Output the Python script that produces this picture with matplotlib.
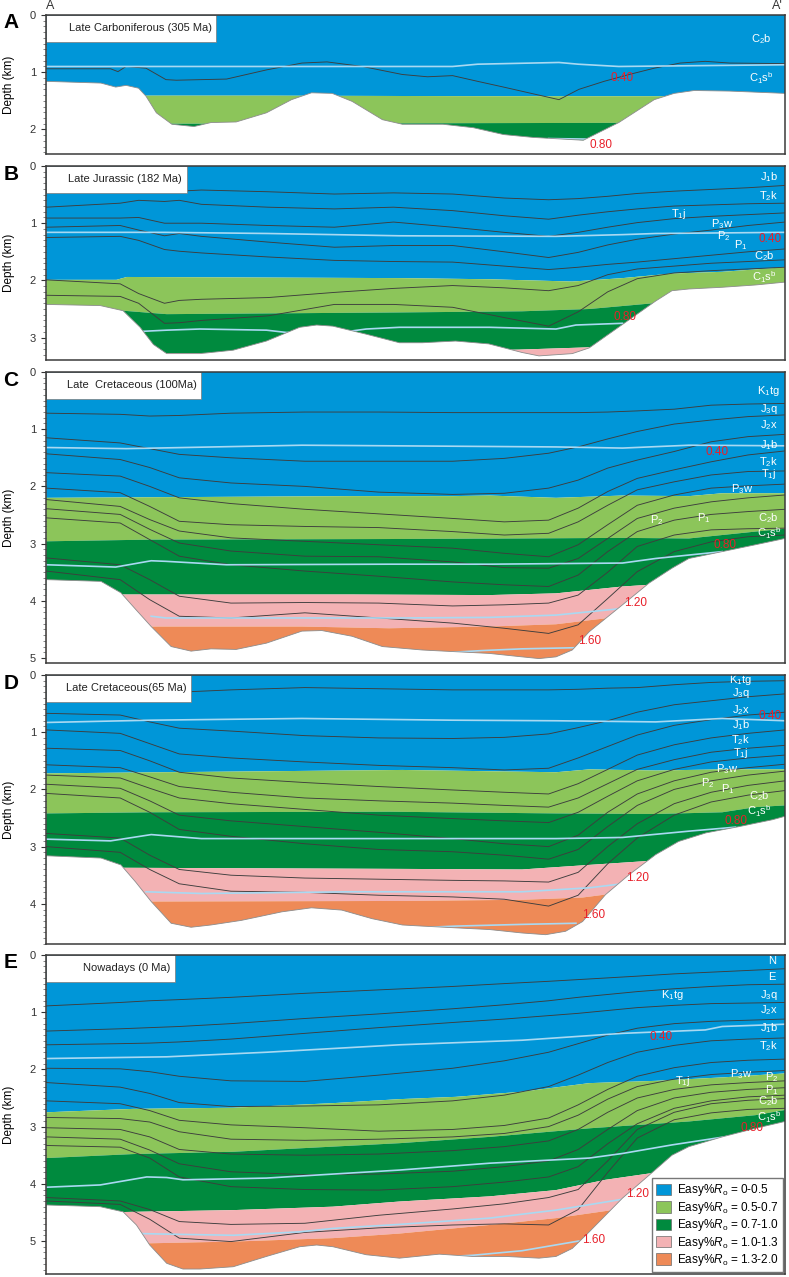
import matplotlib.pyplot as plt
from matplotlib.patches import Patch, Rectangle
from matplotlib.ticker import MultipleLocator

plt.rcParams['font.family'] = ['Liberation Sans', 'DejaVu Sans']
plt.rcParams['mathtext.fontset'] = 'custom'
plt.rcParams['mathtext.rm'] = 'Liberation Sans'
plt.rcParams['mathtext.it'] = 'Liberation Sans:italic'

# ---------------- colours ----------------
BLUE = '#0096d8'
LGREEN = '#8cc55a'
DGREEN = '#008a3e'
PINK = '#f3b2b4'
ORANGE = '#ee8a57'
ZONE_COLS = [BLUE, LGREEN, DGREEN, PINK, ORANGE]
ZONE_LABELS = ['0-0.5', '0.5-0.7', '0.7-1.0', '1.0-1.3', '1.3-2.0']
LINE_COL = '#3d3d3d'
ISO_COL = '#a9d9f2'
RED = '#e8202a'

# ================= panel A : Late Carboniferous =================
a_base_x = [0, 7.4, 9.4, 10.8, 12.5, 13.5, 14.9, 17, 20, 22.3, 25.7, 29.8, 33.2, 35.9, 38.7,
            41.4, 45.5, 48.2, 53.7, 57.8, 61.9, 65.9, 70, 72.7, 77.5, 82.3, 85, 87.7, 92.5, 100]
a_base_d = [1.16, 1.19, 1.26, 1.23, 1.28, 1.42, 1.71, 1.91, 1.95, 1.88, 1.87, 1.71, 1.48, 1.36, 1.37,
            1.51, 1.83, 1.91, 1.91, 1.97, 2.09, 2.14, 2.17, 2.19, 1.88, 1.48, 1.37, 1.32, 1.33, 1.37]
a_ro05 = ([0, 30, 60, 100], [1.41, 1.41, 1.42, 1.42])
a_ro07 = ([0, 30, 60, 100], [1.90, 1.90, 1.89, 1.88])
a_line_x = [0, 8.7, 9.7, 10.8, 13.5, 16.2, 17.6, 24.4, 29.8, 34.6, 38, 42.8, 48.2, 51.6, 55,
            58.4, 61.9, 65.3, 69.4, 72.1, 75.5, 78.9, 82.3, 85.8, 89.2, 92.5, 100]
a_line_d = [0.94, 0.94, 0.99, 0.90, 0.93, 1.13, 1.14, 1.12, 0.96, 0.84, 0.82, 0.90, 1.04, 1.08, 1.06,
            1.16, 1.26, 1.36, 1.48, 1.30, 1.16, 1.04, 0.93, 0.84, 0.81, 0.84, 0.85]
a_iso040 = ([0, 55, 58.4, 69.4, 72, 77.5, 100], [0.90, 0.90, 0.86, 0.83, 0.86, 0.90, 0.87])
a_iso080 = ([68, 73.5], [2.16, 2.17])

# ================= panel B : Late Jurassic =================
b_base_x = [0, 7.3, 10.4, 12.7, 14.5, 16.3, 20.8, 25.3, 29.8, 34.3, 36.6, 38.8, 43.3, 47.8,
            50.9, 55.4, 59.9, 64.4, 66.7, 71.2, 73.5, 78, 82.5, 84.7, 87, 91.5, 96, 100]
b_base_d = [2.42, 2.44, 2.53, 2.82, 3.12, 3.28, 3.28, 3.22, 3.06, 2.82, 2.78, 2.80, 2.94, 3.09,
            3.09, 3.06, 3.11, 3.26, 3.32, 3.28, 3.18, 2.77, 2.36, 2.18, 2.15, 2.12, 2.08, 2.03]
b_ro05 = ([0, 9.5, 10.9, 47.8, 60, 71.2, 78, 84.7, 91.5, 100],
          [1.99, 1.99, 1.94, 1.96, 1.98, 2.02, 1.96, 1.88, 1.85, 1.77])
b_ro07 = ([0, 10.4, 16.3, 47.8, 64.4, 73.5, 83, 100], [2.53, 2.53, 2.59, 2.56, 2.54, 2.50, 2.39, 2.30])
b_ro10 = ([0, 20, 50, 64, 73.5, 100], [3.27, 3.27, 3.24, 3.21, 3.17, 3.10])
b_grid = [0, 10, 12.5, 16, 18, 21, 30, 39, 47, 55, 62, 68, 72, 76, 80, 85, 90, 95, 100]
b_lines = [
    [0.46, 0.46, 0.46, 0.45, 0.44, 0.42, 0.45, 0.49, 0.47, 0.49, 0.56, 0.59, 0.57, 0.53, 0.48, 0.44, 0.41, 0.38, 0.34],
    [0.72, 0.65, 0.60, 0.62, 0.60, 0.67, 0.72, 0.75, 0.72, 0.78, 0.87, 0.93, 0.86, 0.80, 0.75, 0.70, 0.68, 0.66, 0.65],
    [0.91, 0.91, 0.90, 1.00, 1.00, 1.00, 1.04, 1.07, 0.98, 1.07, 1.16, 1.23, 1.16, 1.07, 0.99, 0.92, 0.88, 0.85, 0.82],
    [1.07, 1.04, 1.12, 1.22, 1.18, 1.23, 1.33, 1.42, 1.39, 1.39, 1.50, 1.60, 1.51, 1.38, 1.28, 1.19, 1.12, 1.04, 0.98],
    [1.25, 1.23, 1.30, 1.46, 1.49, 1.52, 1.59, 1.65, 1.67, 1.68, 1.75, 1.81, 1.77, 1.72, 1.68, 1.62, 1.56, 1.50, 1.45],
    [1.99, 2.06, 2.23, 2.40, 2.35, 2.33, 2.30, 2.21, 2.14, 2.09, 2.13, 2.18, 2.09, 1.90, 1.80, 1.75, 1.70, 1.67, 1.64],
    [2.26, 2.28, 2.40, 2.75, 2.74, 2.70, 2.62, 2.42, 2.42, 2.47, 2.65, 2.80, 2.55, 2.20, 1.97, 1.87, 1.83, 1.80, 1.77],
]
b_iso040 = ([0, 16, 30, 39, 47.8, 69, 78, 82.5, 100], [1.16, 1.16, 1.18, 1.20, 1.22, 1.23, 1.20, 1.18, 1.16])
b_iso080 = ([13.1, 16.3, 20.8, 29.8, 32.5, 41, 43.3, 47.8, 60, 69, 71.7, 78],
            [2.89, 2.87, 2.85, 2.87, 2.91, 2.89, 2.85, 2.82, 2.82, 2.85, 2.78, 2.75])

# ================= panel C : Late Cretaceous 100 Ma =================
c_base_x = [0, 7.4, 10.1, 12.1, 14.2, 16.9, 19.6, 22.3, 25.7, 29.8, 34.6, 37.3, 41.4, 45.5, 50.9,
            55.4, 60, 64.4, 66.7, 69, 71.2, 73.5, 78, 81.6, 84.7, 87, 91.5, 96, 100]
c_base_d = [3.63, 3.66, 3.86, 4.15, 4.45, 4.80, 4.88, 4.84, 4.85, 4.74, 4.53, 4.52, 4.62, 4.80, 4.86,
            4.89, 4.92, 4.98, 5.01, 4.98, 4.86, 4.54, 4.07, 3.69, 3.43, 3.26, 3.14, 3.02, 2.91]
c_ro05 = ([0, 41.4, 55, 60, 69, 78, 87, 91.5, 100], [2.20, 2.17, 2.17, 2.16, 2.20, 2.16, 2.17, 2.12, 2.12])
c_ro07 = ([0, 14.2, 46.4, 64.4, 78, 87, 91.5, 96, 100], [2.96, 2.93, 2.92, 2.91, 2.90, 2.91, 2.85, 2.79, 2.74])
c_ro10 = ([0, 10, 41.4, 60, 69, 73.5, 78, 81.6, 100], [3.89, 3.89, 3.89, 3.90, 3.87, 3.81, 3.75, 3.72, 3.60])
c_ro13 = ([0, 14.2, 34.6, 46.4, 60, 69, 73.5, 76.2, 100], [4.45, 4.45, 4.45, 4.48, 4.45, 4.41, 4.34, 4.30, 4.10])
grid = [0, 10, 14, 18, 25, 35, 45, 55, 62, 68, 72, 76, 80, 85, 90, 95, 100]
c_lines = [
    [0.72, 0.74, 0.77, 0.76, 0.72, 0.70, 0.70, 0.71, 0.71, 0.71, 0.71, 0.70, 0.68, 0.65, 0.58, 0.56, 0.55],
    [1.15, 1.24, 1.34, 1.44, 1.50, 1.56, 1.56, 1.56, 1.51, 1.42, 1.31, 1.17, 1.04, 0.91, 0.84, 0.78, 0.75],
    [1.43, 1.53, 1.67, 1.85, 1.94, 2.00, 2.10, 2.14, 2.12, 2.03, 1.89, 1.68, 1.54, 1.39, 1.22, 1.13, 1.09],
    [1.76, 1.82, 2.00, 2.20, 2.30, 2.40, 2.48, 2.56, 2.62, 2.59, 2.38, 2.09, 1.86, 1.71, 1.57, 1.45, 1.38],
    [2.03, 2.11, 2.35, 2.61, 2.67, 2.70, 2.72, 2.79, 2.85, 2.82, 2.62, 2.33, 2.06, 1.92, 1.80, 1.74, 1.73],
    [2.23, 2.35, 2.58, 2.78, 2.90, 2.96, 3.02, 3.08, 3.17, 3.23, 3.02, 2.67, 2.33, 2.15, 2.03, 1.99, 1.96],
    [2.39, 2.49, 2.75, 2.99, 3.13, 3.22, 3.23, 3.32, 3.42, 3.43, 3.26, 2.91, 2.56, 2.38, 2.27, 2.20, 2.15],
    [2.55, 2.64, 2.93, 3.22, 3.37, 3.48, 3.57, 3.67, 3.72, 3.75, 3.55, 3.14, 2.79, 2.59, 2.49, 2.44, 2.40],
    [3.25, 3.37, 3.63, 3.92, 4.04, 4.03, 4.04, 4.09, 4.07, 4.04, 3.90, 3.50, 3.05, 2.85, 2.76, 2.74, 2.73],
    [3.48, 3.63, 3.98, 4.27, 4.30, 4.21, 4.30, 4.39, 4.48, 4.57, 4.42, 3.96, 3.49, 3.14, 2.97, 2.88, 2.85],
]
c_iso040 = ([0, 10.8, 34.6, 46.4, 69, 78, 87, 100], [1.32, 1.34, 1.28, 1.29, 1.31, 1.33, 1.28, 1.29])
c_iso080 = ([0, 9.4, 14.2, 16.2, 24.4, 46.4, 60, 78, 82.5, 87, 91.5],
            [3.37, 3.41, 3.30, 3.31, 3.37, 3.36, 3.36, 3.34, 3.26, 3.20, 3.14])
c_iso120 = ([14.2, 16.2, 27.8, 48.2, 60, 69, 77.5], [4.27, 4.30, 4.30, 4.30, 4.29, 4.25, 4.14])
c_iso160 = ([55, 59, 64.4, 71.7], [4.90, 4.87, 4.84, 4.82])

# ================= panel D : Late Cretaceous 65 Ma =================
d_base_x = [0, 7.4, 10.1, 12.1, 14.2, 16.9, 19.6, 22.3, 26.4, 31.9, 35.9, 40, 44.1, 48.2, 50.9,
            55.4, 60, 64.4, 67.6, 70.3, 72.6, 75.7, 78.9, 82.5, 85.6, 89.3, 93.8, 98.3, 100]
d_base_d = [3.16, 3.20, 3.32, 3.62, 3.96, 4.34, 4.41, 4.37, 4.29, 4.14, 4.07, 4.11, 4.26, 4.37, 4.39,
            4.42, 4.45, 4.51, 4.54, 4.48, 4.31, 3.84, 3.49, 3.14, 2.91, 2.76, 2.65, 2.53, 2.47]
d_ro05 = ([0, 48.2, 69, 73.5, 82.5, 91.5, 100], [1.72, 1.66, 1.70, 1.65, 1.67, 1.65, 1.65])
d_ro07 = ([0, 14.2, 46.4, 69, 82.5, 91.5, 96, 100], [2.42, 2.40, 2.39, 2.42, 2.43, 2.40, 2.31, 2.28])
d_ro10 = ([0, 10, 48.2, 64.4, 73.5, 81.6, 100], [3.37, 3.37, 3.39, 3.40, 3.32, 3.25, 3.15])
d_ro13 = ([0, 14.2, 48.2, 64.4, 72.6, 76.2, 100], [3.96, 3.96, 3.95, 3.93, 3.89, 3.83, 3.70])
d_lines = [
    [0.30, 0.30, 0.30, 0.30, 0.26, 0.22, 0.24, 0.26, 0.26, 0.26, 0.25, 0.23, 0.22, 0.17, 0.13, 0.11, 0.10],
    [0.67, 0.70, 0.82, 0.93, 0.98, 1.06, 1.10, 1.11, 1.09, 1.03, 0.92, 0.80, 0.65, 0.52, 0.45, 0.38, 0.33],
    [0.96, 1.02, 1.20, 1.38, 1.45, 1.52, 1.58, 1.62, 1.66, 1.63, 1.45, 1.25, 1.05, 0.88, 0.78, 0.70, 0.65],
    [1.28, 1.32, 1.50, 1.70, 1.80, 1.88, 1.95, 2.01, 2.05, 2.08, 1.90, 1.65, 1.40, 1.22, 1.10, 1.02, 0.96],
    [1.57, 1.62, 1.78, 1.95, 2.05, 2.15, 2.20, 2.24, 2.28, 2.31, 2.15, 1.90, 1.65, 1.48, 1.35, 1.28, 1.23],
    [1.75, 1.80, 1.98, 2.15, 2.25, 2.35, 2.45, 2.51, 2.55, 2.58, 2.40, 2.12, 1.85, 1.65, 1.52, 1.45, 1.40],
    [1.91, 1.98, 2.20, 2.45, 2.55, 2.65, 2.75, 2.86, 2.95, 3.00, 2.80, 2.40, 2.08, 1.85, 1.70, 1.62, 1.56],
    [2.07, 2.15, 2.40, 2.70, 2.82, 2.95, 3.05, 3.09, 3.15, 3.22, 3.05, 2.65, 2.28, 2.00, 1.85, 1.75, 1.68],
    [2.77, 2.85, 3.15, 3.40, 3.50, 3.55, 3.57, 3.59, 3.60, 3.62, 3.45, 3.00, 2.60, 2.25, 2.05, 1.93, 1.85],
    [3.00, 3.10, 3.40, 3.65, 3.78, 3.80, 3.85, 3.88, 3.92, 4.04, 3.85, 3.30, 2.85, 2.45, 2.22, 2.10, 2.02],
]
d_iso040 = ([0, 14.2, 34.6, 55, 69, 82.5, 91.5, 100], [0.83, 0.79, 0.76, 0.79, 0.80, 0.82, 0.76, 0.80])
d_iso080 = ([0, 8.7, 14.2, 21, 48.2, 69, 78, 87, 93.3], [2.87, 2.90, 2.79, 2.86, 2.86, 2.86, 2.84, 2.73, 2.66])
d_iso120 = ([13.5, 21, 41.4, 64.4, 73.5, 78], [3.79, 3.82, 3.79, 3.79, 3.72, 3.65])
d_iso160 = ([50, 55.4, 64.4, 71.7], [4.42, 4.39, 4.36, 4.34])

# ================= panel E : Nowadays =================
e_base_x = [0, 7.3, 10.4, 12.2, 14, 16.3, 18.5, 20.8, 25.3, 29.8, 34.3, 36.6, 38.8, 43.3, 47.8,
            53.2, 57.7, 62.2, 66.7, 69, 71.2, 73.5, 78, 81.6, 84.7, 87, 91.5, 96, 100]
e_base_d = [4.37, 4.40, 4.49, 4.72, 5.07, 5.39, 5.49, 5.49, 5.45, 5.27, 5.10, 5.07, 5.10, 5.24, 5.30,
            5.23, 5.27, 5.27, 5.30, 5.27, 5.13, 4.84, 4.25, 3.85, 3.50, 3.35, 3.18, 3.03, 2.91]
e_ro05 = ([0, 11.8, 25.3, 38.8, 47.8, 55.4, 64.4, 73.5, 82.5, 91.5, 100],
          [2.75, 2.69, 2.67, 2.59, 2.52, 2.48, 2.39, 2.24, 2.20, 2.14, 2.07])
e_ro07 = ([0, 11.8, 25.3, 38.8, 47.8, 60, 73.5, 87, 96, 100],
          [3.55, 3.48, 3.44, 3.35, 3.29, 3.18, 3.03, 2.91, 2.80, 2.71])
e_ro10 = ([0, 11.8, 25.3, 38.8, 47.8, 60, 69, 75.7, 81.6, 100],
          [4.52, 4.49, 4.46, 4.40, 4.31, 4.22, 4.11, 3.93, 3.82, 3.70])
e_ro13 = ([0, 14, 25.3, 38.8, 47.8, 60, 69, 76.6, 100], [5.05, 5.04, 5.01, 4.95, 4.87, 4.72, 4.60, 4.46, 4.20])
e_lines = [
    [0.89, 0.83, 0.80, 0.78, 0.74, 0.67, 0.61, 0.55, 0.50, 0.46, 0.43, 0.40, 0.37, 0.33, 0.30, 0.27, 0.24],
    [1.33, 1.29, 1.27, 1.25, 1.20, 1.11, 1.03, 0.94, 0.87, 0.80, 0.74, 0.69, 0.64, 0.59, 0.55, 0.52, 0.51],
    [1.57, 1.55, 1.54, 1.52, 1.47, 1.37, 1.27, 1.18, 1.12, 1.06, 1.02, 0.97, 0.92, 0.88, 0.85, 0.84, 0.83],
    [1.98, 1.99, 2.04, 2.12, 2.20, 2.21, 2.10, 1.98, 1.85, 1.70, 1.55, 1.40, 1.28, 1.20, 1.16, 1.14, 1.12],
    [2.23, 2.31, 2.42, 2.58, 2.65, 2.64, 2.62, 2.55, 2.45, 2.30, 2.10, 1.88, 1.70, 1.58, 1.50, 1.47, 1.45],
    [2.55, 2.60, 2.72, 2.89, 2.97, 3.02, 3.08, 3.05, 2.98, 2.85, 2.62, 2.35, 2.12, 1.97, 1.88, 1.84, 1.82],
    [2.84, 2.86, 2.92, 3.09, 3.22, 3.24, 3.22, 3.18, 3.12, 3.00, 2.80, 2.52, 2.30, 2.17, 2.09, 2.05, 2.02],
    [3.02, 3.05, 3.18, 3.40, 3.48, 3.50, 3.48, 3.42, 3.35, 3.25, 3.05, 2.75, 2.50, 2.35, 2.27, 2.23, 2.20],
    [3.18, 3.22, 3.41, 3.65, 3.79, 3.84, 3.83, 3.78, 3.70, 3.60, 3.40, 3.05, 2.72, 2.50, 2.40, 2.35, 2.32],
    [3.33, 3.36, 3.55, 3.88, 4.05, 4.10, 4.11, 4.05, 3.97, 3.88, 3.70, 3.30, 2.95, 2.68, 2.55, 2.48, 2.45],
    [4.24, 4.30, 4.45, 4.66, 4.71, 4.69, 4.55, 4.44, 4.35, 4.24, 4.10, 3.60, 3.05, 2.75, 2.60, 2.54, 2.51],
    [4.30, 4.36, 4.62, 4.95, 5.01, 4.85, 4.77, 4.72, 4.70, 4.72, 4.45, 3.80, 3.20, 2.88, 2.76, 2.70, 2.68],
]
e_iso040 = ([0, 16.3, 29.8, 47.8, 64.4, 78, 89.2, 91.5, 100], [1.81, 1.78, 1.70, 1.57, 1.49, 1.37, 1.31, 1.25, 1.21])
e_iso080 = ([0, 7.3, 13.6, 16.3, 18.5, 29.8, 47.8, 60, 73.5, 78, 84.7, 93.8],
            [4.06, 4.02, 3.88, 3.89, 3.93, 3.90, 3.76, 3.64, 3.55, 3.47, 3.32, 3.14])
e_iso120 = ([12.7, 16.3, 25.3, 34.3, 38.8, 47.8, 60, 69, 78], [4.87, 4.88, 4.90, 4.84, 4.78, 4.71, 4.60, 4.46, 4.27])
e_iso160 = ([50, 57.7, 64.4, 72.1], [5.30, 5.25, 5.17, 5.00])

# ---------------- text labels ----------------
a_labels = [(96.8, 0.42, r'C$_{\rm 2}$b'), (96.8, 1.10, r'C$_{\rm 1}$s$^{\rm b}$')]
a_iso_labels = [(77.9, 1.10, '0.40'), (75.1, 2.27, '0.80')]
b_labels = [(97.8, 0.20, r'J$_{\rm 1}$b'), (97.8, 0.53, r'T$_{\rm 2}$k'), (85.6, 0.84, r'T$_{\rm 1}$j'),
            (91.5, 1.01, r'P$_{\rm 3}$w'), (91.7, 1.22, r'P$_{\rm 2}$'), (94, 1.39, r'P$_{\rm 1}$'),
            (97.2, 1.57, r'C$_{\rm 2}$b'), (97.2, 1.94, r'C$_{\rm 1}$s$^{\rm b}$')]
b_iso_labels = [(98, 1.27, '0.40'), (78.4, 2.64, '0.80')]
c_labels = [(97.8, 0.33, r'K$_{\rm 1}$tg'), (97.8, 0.64, r'J$_{\rm 3}$q'), (97.8, 0.93, r'J$_{\rm 2}$x'),
            (97.8, 1.28, r'J$_{\rm 1}$b'), (97.8, 1.57, r'T$_{\rm 2}$k'), (97.8, 1.79, r'T$_{\rm 1}$j'),
            (94.2, 2.05, r'P$_{\rm 3}$w'), (82.7, 2.59, r'P$_{\rm 2}$'), (89, 2.56, r'P$_{\rm 1}$'),
            (97.8, 2.55, r'C$_{\rm 2}$b'), (97.8, 2.82, r'C$_{\rm 1}$s$^{\rm b}$')]
c_iso_labels = [(90.8, 1.40, '0.40'), (91.9, 3.02, '0.80'), (79.8, 4.04, '1.20'), (73.5, 4.70, '1.60')]
d_labels = [(94, 0.08, r'K$_{\rm 1}$tg'), (94, 0.31, r'J$_{\rm 3}$q'), (94, 0.61, r'J$_{\rm 2}$x'),
            (94, 0.88, r'J$_{\rm 1}$b'), (94, 1.13, r'T$_{\rm 2}$k'), (94, 1.36, r'T$_{\rm 1}$j'),
            (92.2, 1.65, r'P$_{\rm 3}$w'), (89.5, 1.89, r'P$_{\rm 2}$'), (92.2, 2.00, r'P$_{\rm 1}$'),
            (96.5, 2.11, r'C$_{\rm 2}$b'), (96.5, 2.38, r'C$_{\rm 1}$s$^{\rm b}$')]
d_iso_labels = [(98.0, 0.71, '0.40'), (93.3, 2.56, '0.80'), (80, 3.55, '1.20'), (74.1, 4.20, '1.60')]
e_labels = [(98.2, 0.10, 'N'), (98.2, 0.38, 'E'), (97.8, 0.70, r'J$_{\rm 3}$q'), (97.8, 0.96, r'J$_{\rm 2}$x'),
            (97.8, 1.28, r'J$_{\rm 1}$b'), (97.8, 1.60, r'T$_{\rm 2}$k'), (94, 2.08, r'P$_{\rm 3}$w'),
            (98.2, 2.13, r'P$_{\rm 2}$'), (98.2, 2.36, r'P$_{\rm 1}$'), (97.8, 2.56, r'C$_{\rm 2}$b'),
            (97.8, 2.84, r'C$_{\rm 1}$s$^{\rm b}$'), (84.7, 0.70, r'K$_{\rm 1}$tg'), (86.1, 2.21, r'T$_{\rm 1}$j')]
e_iso_labels = [(83.2, 1.43, '0.40'), (95.6, 3.03, '0.80'), (80, 4.17, '1.20'), (74.1, 4.98, '1.60')]

titles = ['Late Carboniferous (305 Ma)', 'Late Jurassic (182 Ma)', 'Late  Cretaceous (100Ma)',
          'Late Cretaceous(65 Ma)', 'Nowadays (0 Ma)']
title_box_w = [23, 19, 21, 19.6, 17.4]
panel_letters = ['A', 'B', 'C', 'D', 'E']
panel_top_px = [15, 166, 372, 675, 955]
panel_dmax = [2.43, 3.39, 5.09, 4.70, 5.58]

W, H = 789, 1277
PX_KM = 57.2


def fill_band(ax, upper, lower, dmax, color):
    # polygon between two depth curves (None = surface / bottom of axes)
    ux, ud = upper if upper is not None else ([0, 100], [0, 0])
    lx, ld = lower if lower is not None else ([0, 100], [dmax, dmax])
    xs = list(ux) + list(lx)[::-1]
    ys = list(ud) + list(ld)[::-1]
    ax.fill(xs, ys, color=color, lw=0, zorder=1)


def draw_panel(i, bounds, base_x, base_d, lines, isolines, labels, iso_labels):
    top = panel_top_px[i]
    dmax = panel_dmax[i]
    h = dmax * PX_KM
    ax = fig.add_axes([46.3 / W, 1 - (top + h) / H, 738.7 / W, h / H])
    ax.set_xlim(0, 100)
    ax.set_ylim(dmax, 0)

    edges = [None] + bounds + [None]
    for k in range(len(edges) - 1):
        fill_band(ax, edges[k], edges[k + 1], dmax, ZONE_COLS[k])

    for lx, ld in lines:
        ax.plot(lx, ld, color=LINE_COL, lw=0.65, zorder=2)
    for ix, idd in isolines:
        ax.plot(ix, idd, color=ISO_COL, lw=1.2, zorder=2.5)

    # white below the basement
    ax.fill(list(base_x) + [100, 0], list(base_d) + [dmax + 1, dmax + 1], color='white', lw=0, zorder=3)
    ax.plot(base_x, base_d, color='#8c8c8c', lw=0.6, zorder=3.5)

    # title box
    bw = title_box_w[i]
    ax.add_patch(Rectangle((0, 0), bw, 0.47, facecolor='white', edgecolor='#7a7a7a', lw=0.5, zorder=5))
    ax.text(bw - 0.6, 0.235, titles[i], fontsize=8, color='#222222', ha='right', va='center', zorder=6)

    for x, d, s in labels:
        ax.text(x, d, s, fontsize=8, color='white', ha='center', va='center', zorder=6)
    for x, d, s in iso_labels:
        ax.text(x, d, s, fontsize=8.5, color=RED, ha='center', va='center', zorder=6)

    ax.set_xticks([])
    ax.yaxis.set_major_locator(MultipleLocator(1))
    ax.yaxis.set_minor_locator(MultipleLocator(0.1))
    ax.tick_params(axis='y', which='major', length=3.5, width=0.8, labelsize=8, colors='#333333', pad=4)
    ax.tick_params(axis='y', which='minor', length=2, width=0.5, colors='#555555')
    for sp in ax.spines.values():
        sp.set_linewidth(1.1)
        sp.set_color('#3a3a3a')
        sp.set_zorder(7)
    ax.set_ylabel('Depth (km)', fontsize=8.5, labelpad=6)
    ax.yaxis.set_label_coords(-0.042, 0.5)

    fig.text(11 / W, 1 - (top + 8) / H, panel_letters[i], fontsize=15, fontweight='bold',
             ha='center', va='center')
    return ax


fig = plt.figure(figsize=(W / 100, H / 100), dpi=100)

draw_panel(0, [a_ro05, a_ro07], a_base_x, a_base_d, [(a_line_x, a_line_d)],
           [a_iso040, a_iso080], a_labels, a_iso_labels)
draw_panel(1, [b_ro05, b_ro07, b_ro10], b_base_x, b_base_d, [(b_grid, l) for l in b_lines],
           [b_iso040, b_iso080], b_labels, b_iso_labels)
draw_panel(2, [c_ro05, c_ro07, c_ro10, c_ro13], c_base_x, c_base_d, [(grid, l) for l in c_lines],
           [c_iso040, c_iso080, c_iso120, c_iso160], c_labels, c_iso_labels)
draw_panel(3, [d_ro05, d_ro07, d_ro10, d_ro13], d_base_x, d_base_d, [(grid, l) for l in d_lines],
           [d_iso040, d_iso080, d_iso120, d_iso160], d_labels, d_iso_labels)
ax_e = draw_panel(4, [e_ro05, e_ro07, e_ro10, e_ro13], e_base_x, e_base_d, [(grid, l) for l in e_lines],
                  [e_iso040, e_iso080, e_iso120, e_iso160], e_labels, e_iso_labels)

handles = [Patch(facecolor=c, edgecolor='#6a6a6a', lw=0.5, label=r'Easy%$R_{\rm o}$ = ' + t)
           for c, t in zip(ZONE_COLS, ZONE_LABELS)]
leg = ax_e.legend(handles=handles, loc='lower right', bbox_to_anchor=(0.997, 0.006), frameon=True,
                  fancybox=False, edgecolor='#555555', fontsize=8.5, handlelength=1.3, handleheight=1.1,
                  borderpad=0.35, labelspacing=0.12, handletextpad=0.5, borderaxespad=0)
leg.get_frame().set_linewidth(1.0)
leg.set_zorder(10)

fig.text(50 / W, 1 - 6 / H, 'A', fontsize=9, ha='center', va='center', color='#333333')
fig.text(777 / W, 1 - 6 / H, "A'", fontsize=9, ha='center', va='center', color='#333333')

fig.savefig('out.png', dpi=100)
